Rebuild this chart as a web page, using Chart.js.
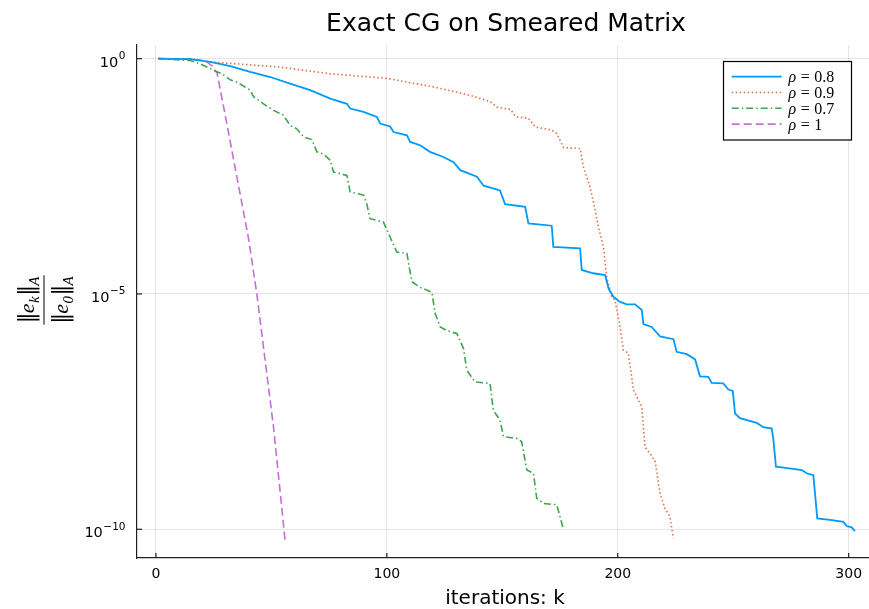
<!DOCTYPE html>
<html>
<head>
<meta charset="utf-8">
<script src="https://cdn.jsdelivr.net/npm/chart.js@4.4.1/dist/chart.umd.min.js"></script>
<style>
  html, body { margin: 0; padding: 0; background: #fff; }
  canvas { display: block; }
</style>
</head>
<body>
<canvas id="cg" width="869" height="609"></canvas>
<script>
// iterations k and log10(||e_k||_A / ||e_0||_A)
var kRho08 = [1, 15, 23.5, 32.2, 40.8, 49.5, 58.1, 66.8, 75.5, 82.7, 84.1, 89.9, 95.7, 97.1, 101.4, 102.9, 108.7, 110.1, 114.4, 118.7, 124.5, 128.9, 131.8, 139, 141.9, 149, 151.2, 159.9, 161.3, 171.4, 172.1, 183.7, 184.4, 189.4, 194.5, 196, 198.1, 201, 203.9, 207.5, 210.4, 211.1, 214.7, 218.3, 224.1, 225.5, 229.9, 233.5, 235.6, 239.2, 240.7, 245.7, 247.9, 249.8, 250.8, 252.9, 260.2, 263, 266.7, 267.4, 268.5, 270.3, 279.7, 281.8, 284.7, 286.4, 291.9, 297.7, 299.1, 301.3, 302.7];
var logRho08 = [0, -0.01, -0.07, -0.16, -0.28, -0.39, -0.53, -0.67, -0.85, -0.96, -1.06, -1.13, -1.24, -1.38, -1.44, -1.56, -1.63, -1.77, -1.84, -1.98, -2.09, -2.20, -2.37, -2.51, -2.70, -2.80, -3.09, -3.15, -3.50, -3.55, -4.0, -4.03, -4.49, -4.56, -4.60, -4.88, -5.06, -5.17, -5.22, -5.22, -5.34, -5.64, -5.70, -5.90, -5.96, -6.23, -6.28, -6.39, -6.75, -6.76, -6.89, -6.90, -7.03, -7.06, -7.54, -7.64, -7.74, -7.83, -7.86, -8.10, -8.67, -8.68, -8.74, -8.81, -8.85, -9.77, -9.80, -9.84, -9.93, -9.96, -10.04];

var kRho09 = [1, 15, 23.5, 32, 53.8, 75.5, 100, 110, 120.2, 131.8, 139, 144.9, 147.8, 153.6, 155.8, 161.3, 164.3, 171.4, 173.6, 176.5, 183.7, 185.1, 188, 190.2, 191.6, 193.8, 195.2, 197.4, 198.8, 201, 202.4, 204.6, 206.8, 210.4, 211.8, 215.4, 216.1, 218.3, 220.4, 222.6, 224.1];
var logRho09 = [0, -0.01, -0.07, -0.10, -0.18, -0.32, -0.42, -0.51, -0.60, -0.73, -0.82, -0.92, -1.03, -1.08, -1.23, -1.27, -1.45, -1.52, -1.59, -1.89, -1.91, -2.30, -2.73, -3.22, -3.58, -4.0, -4.64, -5.06, -5.13, -5.70, -6.19, -6.26, -7.04, -7.40, -8.25, -8.49, -8.53, -9.24, -9.55, -9.73, -10.19];

var kRho07 = [1, 14.8, 19.2, 23.5, 26.4, 28.6, 32.2, 35.1, 40.8, 42.3, 46.6, 50.9, 55.2, 58.1, 61, 63.9, 67.5, 69.7, 72.6, 75.5, 76.9, 82.7, 84.1, 89.9, 91.3, 92.7, 98.5, 101.4, 104.3, 108.7, 110.8, 114.4, 119.5, 120.9, 123.1, 126, 130.3, 133.2, 134.6, 138.2, 144.7, 146.1, 149, 150.5, 156.3, 158.4, 160.6, 163.5, 164.9, 167.8, 173.6, 176.5];
var logRho07 = [0, -0.04, -0.11, -0.21, -0.28, -0.32, -0.45, -0.50, -0.67, -0.81, -0.96, -1.10, -1.20, -1.42, -1.49, -1.66, -1.72, -1.98, -2.03, -2.16, -2.41, -2.48, -2.83, -2.90, -3.08, -3.40, -3.47, -3.79, -4.11, -4.14, -4.74, -4.86, -4.96, -5.41, -5.70, -5.78, -5.84, -6.16, -6.62, -6.87, -6.90, -7.47, -7.68, -8.03, -8.07, -8.14, -8.74, -8.81, -9.34, -9.45, -9.48, -10.01];

var kRho1 = [1, 15, 20, 22, 24.5, 26.5, 30, 35, 40, 43.7, 47, 50.9, 54, 56];
var logRho1 = [0, -0.01, -0.04, -0.07, -0.16, -0.31, -1.2, -2.5, -3.79, -5.0, -6.3, -7.82, -9.3, -10.28];

var rhoLabels = ['0.8', '0.9', '0.7', '1'];
var xTicks = [0, 100, 200, 300];
var yTickExps = [0, -5, -10];

function points(ks, logs) {
  return ks.map(function (k, i) { return { x: k, y: Math.pow(10, logs[i]) }; });
}

var SANS = '"DejaVu Sans", sans-serif';
var SERIF = '"Liberation Serif", "DejaVu Serif", serif';
var BARS = '"DejaVu Serif", serif';

var decorations = {
  id: 'decorations',
  afterDraw: function (chart) {
    var ctx = chart.ctx, area = chart.chartArea;
    var xs = chart.scales.x, ys = chart.scales.y;
    ctx.save();

    // inward tick marks
    ctx.strokeStyle = '#222';
    ctx.lineWidth = 1.2;
    xs.ticks.forEach(function (t) {
      var px = xs.getPixelForValue(t.value);
      ctx.beginPath(); ctx.moveTo(px, area.bottom); ctx.lineTo(px, area.bottom - 5); ctx.stroke();
    });
    ys.ticks.forEach(function (t) {
      var py = ys.getPixelForValue(t.value);
      ctx.beginPath(); ctx.moveTo(area.left, py); ctx.lineTo(area.left + 5, py); ctx.stroke();
    });

    // tick labels
    ctx.fillStyle = '#000';
    ctx.textBaseline = 'alphabetic';
    ctx.font = '14px ' + SANS;
    ctx.textAlign = 'center';
    xs.ticks.forEach(function (t) {
      ctx.fillText(String(t.value), xs.getPixelForValue(t.value), 578);
    });
    ctx.textAlign = 'left';
    ys.ticks.forEach(function (t, i) {
      var py = ys.getPixelForValue(t.value);
      var e = yTickExps[i];
      var expStr = e < 0 ? '\u2212' + String(-e) : String(e);
      ctx.font = '10.5px ' + SANS;
      var ew = ctx.measureText(expStr).width;
      ctx.font = '14.5px ' + SANS;
      var bw = ctx.measureText('10').width;
      var right = 125;
      ctx.fillText('10', right - ew - bw, py + 8);
      ctx.font = '10.5px ' + SANS;
      ctx.fillText(expStr, right - ew + 0.5, py + 0.5);
    });

    // title and x label
    ctx.textAlign = 'center';
    ctx.font = '25px ' + SANS;
    ctx.fillText('Exact CG on Smeared Matrix', 506, 31);
    ctx.font = '20px ' + SANS;
    ctx.fillText('iterations: k', 505, 604);

    // y label: ||e_k||_A / ||e_0||_A, rotated
    ctx.save();
    ctx.translate(44, 300);
    ctx.rotate(-Math.PI / 2);
    function normPart(sub, x0, base) {
      var x = x0;
      ctx.font = '22px ' + BARS;
      ctx.fillText('\u2016', x, base); x += ctx.measureText('\u2016').width - 1;
      ctx.font = 'italic 22px ' + SERIF;
      ctx.fillText('e', x, base); x += ctx.measureText('e').width + 0.5;
      ctx.font = 'italic 15px ' + SERIF;
      ctx.fillText(sub, x, base + 4.5); x += ctx.measureText(sub).width + 0.5;
      ctx.font = '22px ' + BARS;
      ctx.fillText('\u2016', x, base); x += ctx.measureText('\u2016').width - 1;
      ctx.font = 'italic 15px ' + SERIF;
      ctx.fillText('A', x, base + 4.5); x += ctx.measureText('A').width;
      return x - x0;
    }
    ctx.textAlign = 'left';
    ctx.globalAlpha = 0;
    var wNum = normPart('k', 0, 0);
    var wDen = normPart('0', 0, 0);
    ctx.globalAlpha = 1;
    normPart('k', -wNum / 2, -10);
    normPart('0', -wDen / 2, 24);
    ctx.strokeStyle = '#000';
    ctx.lineWidth = 1;
    var bar = Math.max(wNum, wDen) + 2;
    ctx.beginPath(); ctx.moveTo(-bar / 2, 0); ctx.lineTo(bar / 2, 0); ctx.stroke();
    ctx.restore();

    // legend
    var lx = 723.5, ly = 61.5, lw = 128, lh = 78.5;
    ctx.fillStyle = '#fff';
    ctx.fillRect(lx, ly, lw, lh);
    ctx.strokeStyle = '#000';
    ctx.lineWidth = 1.2;
    ctx.strokeRect(lx, ly, lw, lh);
    chart.data.datasets.forEach(function (ds, i) {
      var rowY = 76.7 + i * 15.8;
      ctx.save();
      ctx.strokeStyle = ds.borderColor;
      ctx.lineWidth = ds.borderWidth;
      ctx.setLineDash(ds.borderDash || []);
      ctx.beginPath(); ctx.moveTo(731.7, rowY); ctx.lineTo(781.7, rowY); ctx.stroke();
      ctx.restore();
      ctx.fillStyle = '#000';
      ctx.textAlign = 'left';
      var tx = 788.5, base = rowY + 5.5;
      ctx.font = 'italic 16px ' + SERIF;
      ctx.fillText('\u03c1', tx, base); tx += ctx.measureText('\u03c1').width + 4.5;
      ctx.font = '16px ' + SERIF;
      ctx.fillText('=', tx, base); tx += ctx.measureText('=').width + 4.5;
      ctx.fillText(rhoLabels[i], tx, base);
    });

    ctx.restore();
  }
};

new Chart(document.getElementById('cg'), {
  type: 'line',
  data: {
    datasets: [
      { label: '\u03c1 = ' + rhoLabels[0], data: points(kRho08, logRho08), borderColor: '#009AFA', borderWidth: 1.8, borderDash: [] },
      { label: '\u03c1 = ' + rhoLabels[1], data: points(kRho09, logRho09), borderColor: '#E36F47', borderWidth: 1.6, borderDash: [1.5, 2.5] },
      { label: '\u03c1 = ' + rhoLabels[2], data: points(kRho07, logRho07), borderColor: '#3EA44E', borderWidth: 1.6, borderDash: [7, 3, 1.5, 3] },
      { label: '\u03c1 = ' + rhoLabels[3], data: points(kRho1, logRho1), borderColor: '#C371D2', borderWidth: 1.6, borderDash: [8, 4] }
    ]
  },
  plugins: [decorations],
  options: {
    responsive: false,
    animation: false,
    events: [],
    devicePixelRatio: 1,
    layout: { padding: { top: 45, left: 0, right: 0, bottom: 0 } },
    elements: {
      point: { radius: 0 },
      line: { tension: 0, fill: false, borderCapStyle: 'butt' }
    },
    plugins: {
      legend: { display: false },
      tooltip: { enabled: false }
    },
    scales: {
      x: {
        type: 'linear',
        min: -8.2,
        max: 308.8,
        afterBuildTicks: function (s) { s.ticks = xTicks.map(function (v) { return { value: v }; }); },
        afterFit: function (s) { s.height = 51; },
        ticks: { display: false },
        grid: { color: 'rgba(0,0,0,0.1)', lineWidth: 1, drawTicks: false, tickLength: 0 },
        border: { color: '#222', width: 1.2 }
      },
      y: {
        type: 'logarithmic',
        min: Math.pow(10, -10.61),
        max: Math.pow(10, 0.29),
        afterBuildTicks: function (s) { s.ticks = yTickExps.map(function (e) { return { value: Math.pow(10, e) }; }); },
        afterFit: function (s) { s.width = 137; },
        ticks: { display: false },
        grid: { color: 'rgba(0,0,0,0.1)', lineWidth: 1, drawTicks: false, tickLength: 0 },
        border: { color: '#222', width: 1.2 }
      }
    }
  }
});
</script>
</body>
</html>
